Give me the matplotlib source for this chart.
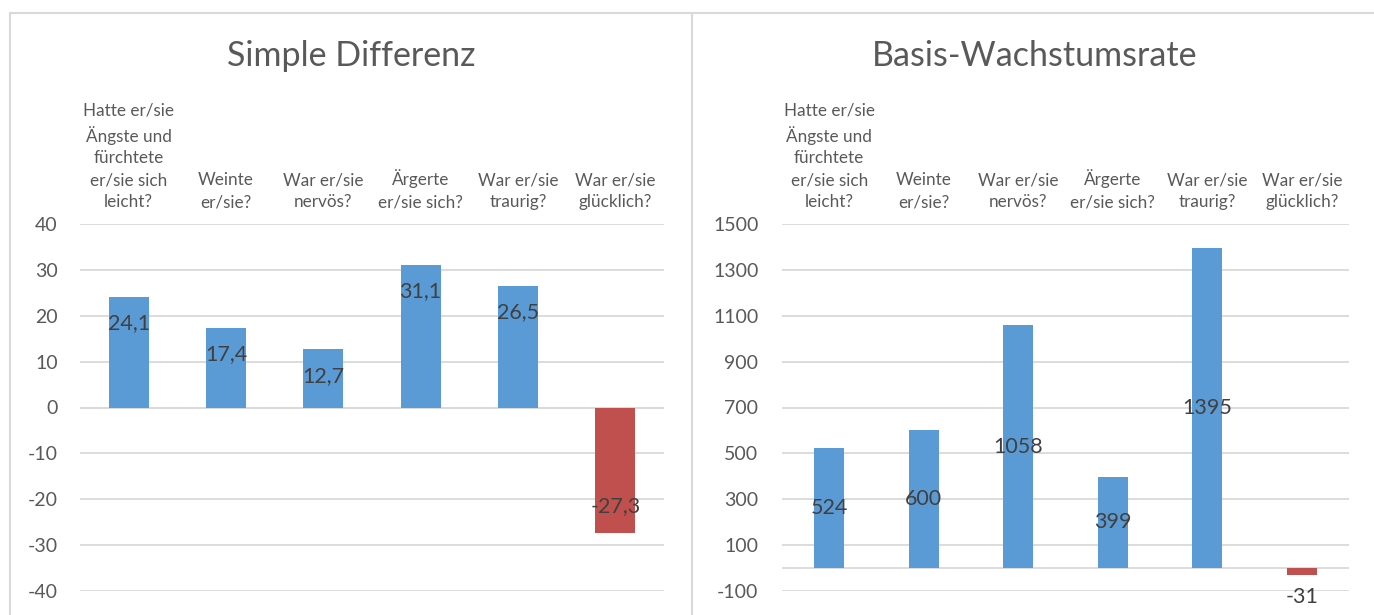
import matplotlib
matplotlib.use("Agg")
import matplotlib.pyplot as plt
from matplotlib.lines import Line2D

plt.rcParams["font.family"] = ["Lato", "DejaVu Sans"]

# Data
categories = [
    "Hatte er/sie\nÄngste und\nfürchtete\ner/sie sich\nleicht?",
    "Weinte\ner/sie?",
    "War er/sie\nnervös?",
    "Ärgerte\ner/sie sich?",
    "War er/sie\ntraurig?",
    "War er/sie\nglücklich?",
]
simple_diff = [24.1, 17.4, 12.7, 31.1, 26.5, -27.3]
growth_rate = [524, 600, 1058, 399, 1395, -31]
simple_ticks = [-40, -30, -20, -10, 0, 10, 20, 30, 40]
growth_ticks = [-100, 100, 300, 500, 700, 900, 1100, 1300, 1500]

BLUE = "#5B9BD5"
RED = "#C0504D"
GRID = "#D9D9D9"
TXT = "#595959"
LBL = "#404040"

W, H = 1374, 615
fig = plt.figure(figsize=(W / 100, H / 100), dpi=100)


def fx(px):
    return px / W


def fy(py):
    return 1 - py / H


# Panel frames
for x0, x1 in [(10, 692), (692, 1380)]:
    fig.add_artist(Line2D([fx(x0), fx(x0)], [fy(615), fy(13)], color=GRID, lw=1.5))
    fig.add_artist(Line2D([fx(x0), fx(x1)], [fy(13), fy(13)], color=GRID, lw=1.5))


def fmt_de(v):
    return f"{v:.1f}".replace(".", ",")


def draw_panel(rect, values, ticks, ylim, width, title, title_x, fmt, label_mode, tickpad):
    ax = fig.add_axes(rect)
    x = list(range(len(values)))
    colors = [BLUE if v >= 0 else RED for v in values]
    bars = ax.bar(x, values, width=width, color=colors, zorder=3)
    ax.set_xlim(-0.5, len(values) - 0.5)
    ax.set_ylim(*ylim)
    ax.set_yticks(ticks)
    ax.set_yticklabels([str(t) for t in ticks])
    ax.yaxis.grid(True, color=GRID, lw=1.3, zorder=0)
    ax.axhline(0, color=GRID, lw=1.3, zorder=2)
    for s in ax.spines.values():
        s.set_visible(False)
    ax.tick_params(axis="y", length=0, pad=tickpad, labelsize=14, labelcolor=TXT)
    ax.set_xticks(x)
    ax.set_xticklabels(categories, linespacing=1.45)
    ax.tick_params(axis="x", length=0, top=False, bottom=False,
                   labeltop=True, labelbottom=False, pad=10,
                   labelsize=12.3, labelcolor=TXT)
    for b, v in zip(bars, values):
        cx = b.get_x() + b.get_width() / 2
        if label_mode == "inside_end":
            off = -19 if v >= 0 else 19
            ax.annotate(fmt(v), (cx, v), xytext=(0, off), textcoords="offset points",
                        ha="center", va="center", fontsize=15.5, color=LBL, zorder=5)
        else:
            if v >= 0:
                ax.annotate(fmt(v), (cx, v / 2), ha="center", va="center",
                            fontsize=15.5, color=LBL, zorder=5)
            else:
                ax.annotate(fmt(v), (cx, v), xytext=(0, -16), textcoords="offset points",
                            ha="center", va="center", fontsize=15.5, color=LBL, zorder=5)
    fig.text(title_x, fy(56), title, ha="center", va="center", fontsize=24.5, color=TXT)
    return ax


bottom = fy(591)
height = fy(224) - fy(591)
draw_panel([fx(80), bottom, fx(664) - fx(80), height], simple_diff, simple_ticks,
           (-40, 40), 0.41, "Simple Differenz", fx(351), fmt_de, "inside_end", 16)
draw_panel([fx(782), bottom, fx(1349) - fx(782), height], growth_rate, growth_ticks,
           (-100, 1500), 0.32, "Basis-Wachstumsrate", fx(1035), lambda v: f"{v:d}",
           "center", 17)

fig.savefig("out.png", dpi=100)
